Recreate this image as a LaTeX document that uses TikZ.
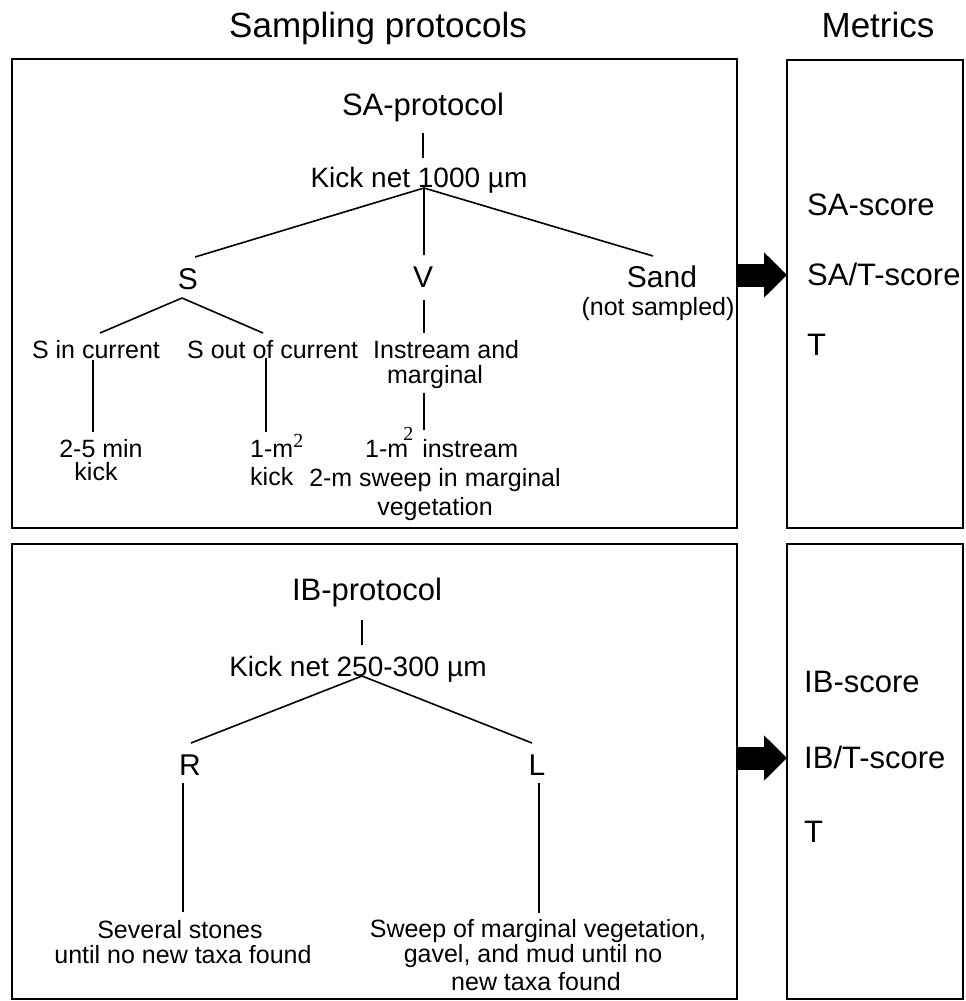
\documentclass[tikz,border=0pt]{standalone}
\usepackage{fontspec}
\setmainfont{Liberation Sans}
\newfontfamily\serifsup{Liberation Serif}
\usetikzlibrary{arrows.meta}
\newcommand{\fs}[1]{\fontsize{#1}{#1}\selectfont}
\newcommand{\supt}[1]{{\serifsup\fs{20}#1}}
\begin{document}
\begin{tikzpicture}[x=1pt,y=-1pt,
  box/.style={draw, line width=1.8pt, inner sep=0pt, outer sep=0pt, anchor=north west},
  t/.style={inner sep=0pt, anchor=base},
  tw/.style={inner sep=0pt, anchor=base west},
  ln/.style={line width=1.6pt},
  bigarrow/.style={line width=23pt, -{Triangle[length=23pt,width=44pt]}},
  ttl/.style={font=\fs{35}},
  proto/.style={font=\fs{31}},
  kick/.style={font=\fs{28}},
  big/.style={font=\fs{30}},
  small/.style={font=\fs{25}},
  metric/.style={font=\fs{31}, inner sep=0pt, anchor=base west}]
\useasboundingbox (0,0) rectangle (966,1001);

% titles
\node[tw, ttl] (tsp) at (229,37) {Sampling protocols};
\node[t, ttl] (tme) at (878,37) {Metrics};

% boxes
\node[box, minimum width=725pt, minimum height=469pt] (sa) at (12,59) {};
\node[box, minimum width=725pt, minimum height=455pt] (ib) at (12,544) {};
\node[box, minimum width=176pt, minimum height=468pt] (msa) at (787,60) {};
\node[box, minimum width=176pt, minimum height=455pt] (mib) at (787,544) {};

% arrows
\coordinate (ya) at (0,275);
\coordinate (yb) at (0,758);
\draw[bigarrow] (sa.east |- ya) -- (msa.west |- ya);
\draw[bigarrow] (ib.east |- yb) -- (mib.west |- yb);

% metrics
\node[metric] (m1) at (807,215) {SA-score};
\node[metric] (m2) at (807,285) {SA/T-score};
\node[metric] (m3) at (807,355) {T};
\node[metric] (m4) at (804,692) {IB-score};
\node[metric] (m5) at (804,768) {IB/T-score};
\node[metric] (m6) at (804,842) {T};

% ---------- SA tree ----------
\node[t, proto] (sap) at (423,115) {SA-protocol};
\node[t, kick] (kn1) at (419,187) {Kick net 1000 µm};
\node[t, big] (S) at (188,289) {S};
\node[t, big] (V) at (423,287) {V};
\node[t, big] (sand) at (662,287) {Sand};
\node[t, small] (ns) at (658,315) {(not sampled)};
\node[t, small] (sin) at (96,358) {S in current};
\node[tw, small] (sout) at (187,358) {S out of current};
\node[tw, small] (ins) at (373,358) {Instream and};
\node[t, small] (marg) at (435,383) {marginal};
\node[t, small] (k1a) at (101,457) {2-5 min};
\node[t, small] (k1b) at (96,480) {kick};
\node[tw, small] (k2a) at (250,457) {1-m\raisebox{10pt}{\supt{2}}};
\node[tw, small] (k2b) at (250,485) {kick};
\node[tw, small] (v1) at (365,457) {1-m\hspace{-5pt}\raisebox{17pt}{\supt{2}}\hspace{9pt}instream};
\node[t, small] (v2) at (435,486) {2-m sweep in marginal};
\node[t, small] (v3) at (435,515) {vegetation};

\coordinate (sap-b) at (423,133);
\coordinate (kn1-t) at (423,158);
\coordinate (kn1-b) at (424,188);
\coordinate (S-t) at (195,257);
\coordinate (V-t) at (424,255);
\coordinate (sand-t) at (653,256);
\coordinate (S-b) at (182,298);
\coordinate (sin-t) at (100,333);
\coordinate (sout-t) at (263,333);
\coordinate (V-b) at (424,300);
\coordinate (ins-t) at (424,333);
\coordinate (marg-b) at (424,393);
\coordinate (v1-t) at (424,430);
\coordinate (sin-b) at (93,360);
\coordinate (k1a-t) at (93,432);
\coordinate (sout-b) at (266,358);
\coordinate (k2a-t) at (266,432);

\draw[ln] (sap-b) -- (kn1-t);
\draw[ln] (kn1-b) -- (S-t);
\draw[ln] (kn1-b) -- (V-t);
\draw[ln] (kn1-b) -- (sand-t);
\draw[ln] (S-b) -- (sin-t);
\draw[ln] (S-b) -- (sout-t);
\draw[ln] (V-b) -- (ins-t);
\draw[ln] (marg-b) -- (v1-t);
\draw[ln] (sin-b) -- (k1a-t);
\draw[ln] (sout-b) -- (k2a-t);

% ---------- IB tree ----------
\node[t, proto] (ibp) at (367,600) {IB-protocol};
\node[t, kick] (kn2) at (358,676) {Kick net 250-300 µm};
\node[t, big] (R) at (190,775) {R};
\node[t, big] (L) at (537,775) {L};
\node[t, small] (r1) at (180,938) {Several stones};
\node[t, small] (r2) at (183,963) {until no new taxa found};
\node[t, small] (l1) at (538,937) {Sweep of marginal vegetation,};
\node[t, small] (l2) at (533,962) {gavel, and mud until no};
\node[t, small] (l3) at (536,990) {new taxa found};

\coordinate (ibp-b) at (362,620);
\coordinate (kn2-t) at (362,645);
\coordinate (kn2-b) at (362,676);
\coordinate (R-t) at (191,743);
\coordinate (L-t) at (532,743);
\coordinate (R-b) at (183,783);
\coordinate (r1-t) at (183,912);
\coordinate (L-b) at (539,783);
\coordinate (l1-t) at (539,913);

\draw[ln] (ibp-b) -- (kn2-t);
\draw[ln] (kn2-b) -- (R-t);
\draw[ln] (kn2-b) -- (L-t);
\draw[ln] (R-b) -- (r1-t);
\draw[ln] (L-b) -- (l1-t);
\end{tikzpicture}
\end{document}
